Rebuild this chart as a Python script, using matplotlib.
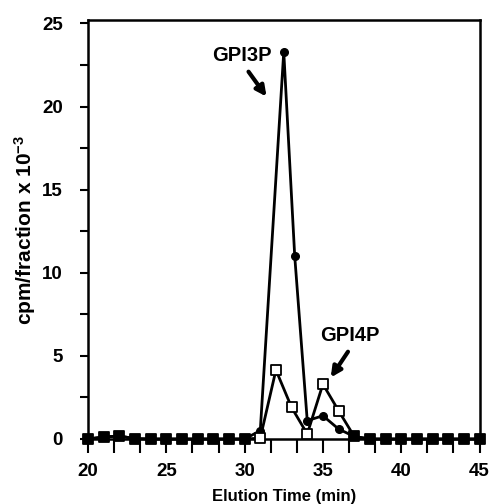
import numpy as np
import matplotlib
matplotlib.use("Agg")
import matplotlib.pyplot as plt
from matplotlib.ticker import MultipleLocator

plt.rcParams['font.family'] = ['Liberation Sans', 'DejaVu Sans']
plt.rcParams['font.weight'] = 'bold'
plt.rcParams['mathtext.fontset'] = 'custom'
plt.rcParams['mathtext.rm'] = 'Liberation Sans:bold'
plt.rcParams['mathtext.default'] = 'rm'

# --- Data ---
# open squares: one fraction per minute
sq_time = np.arange(20, 46)
sq_cpm = [0, 0.12, 0.18, 0.02, 0, 0, 0, 0, 0, 0, 0,
          0.05, 4.15, 1.9, 0.3, 3.3, 1.7, 0.15,
          0, 0, 0, 0, 0, 0, 0, 0]

# filled circles (GPI3P trace)
circ_time = [20, 21, 22, 23, 24, 25, 26, 27, 28, 29, 30, 31,
             32.5, 33.2, 34, 35, 36, 37, 38, 39, 40, 41, 42, 43, 44, 45]
circ_cpm = [0, 0.12, 0.18, 0.02, 0, 0, 0, 0, 0, 0, 0, 0.5,
            23.3, 11.0, 1.1, 1.4, 0.6, 0.15, 0, 0, 0, 0, 0, 0, 0, 0]

# where both traces coincide the squares print solid black
circ_lookup = dict(zip(circ_time, circ_cpm))
overlap = [abs(circ_lookup.get(t, -99) - v) < 0.01 for t, v in zip(sq_time, sq_cpm)]

# --- Plotting ---
fig = plt.figure(figsize=(4.9, 5.04), dpi=100)
ax = fig.add_axes([0.1796, 0.129, 0.799, 0.831])

ax.plot(circ_time, circ_cpm, color='k', lw=2, zorder=2, clip_on=False)
ax.plot(sq_time, sq_cpm, color='k', lw=2, zorder=2, clip_on=False)
ax.plot(circ_time, circ_cpm, 'o', color='k', ms=5.5, zorder=3, clip_on=False)
face = ['k' if o else 'white' for o in overlap]
ax.scatter(sq_time, sq_cpm, marker='s', s=52, facecolors=face,
           edgecolors='k', linewidths=1.3, zorder=4, clip_on=False)

# labels and arrows
ax.text(29.8, 23.05, 'GPI3P', fontsize=14.5, fontweight='bold',
        ha='center', va='center')
ax.annotate('', xy=(31.4, 20.6), xytext=(30.25, 22.1),
            arrowprops=dict(arrowstyle='-|>', color='k', lw=3,
                            mutation_scale=15, shrinkA=0, shrinkB=0))
ax.text(36.75, 6.25, 'GPI4P', fontsize=14.5, fontweight='bold',
        ha='center', va='center')
ax.annotate('', xy=(35.5, 3.7), xytext=(36.6, 5.25),
            arrowprops=dict(arrowstyle='-|>', color='k', lw=3,
                            mutation_scale=15, shrinkA=0, shrinkB=0))

ax.set_xlim(20, 45)
ax.set_ylim(0, 25.2)
ax.xaxis.set_major_locator(MultipleLocator(5))
ax.xaxis.set_minor_locator(MultipleLocator(5 / 3))
ax.yaxis.set_major_locator(MultipleLocator(5))
ax.yaxis.set_minor_locator(MultipleLocator(2.5))
ax.tick_params(axis='x', which='both', direction='out', length=10, width=1.5,
               pad=7, labelsize=13.5)
ax.tick_params(axis='y', which='both', direction='out', length=6, width=1.5,
               pad=12, labelsize=13.5)
for s in ax.spines.values():
    s.set_linewidth(1.8)

ax.set_xlabel('Elution Time (min)', fontsize=12, fontweight='bold', labelpad=7)
ax.set_ylabel(r'cpm/fraction x 10$^{-3}$', fontsize=15, fontweight='bold',
              labelpad=3)

fig.savefig('out.png', dpi=100)
